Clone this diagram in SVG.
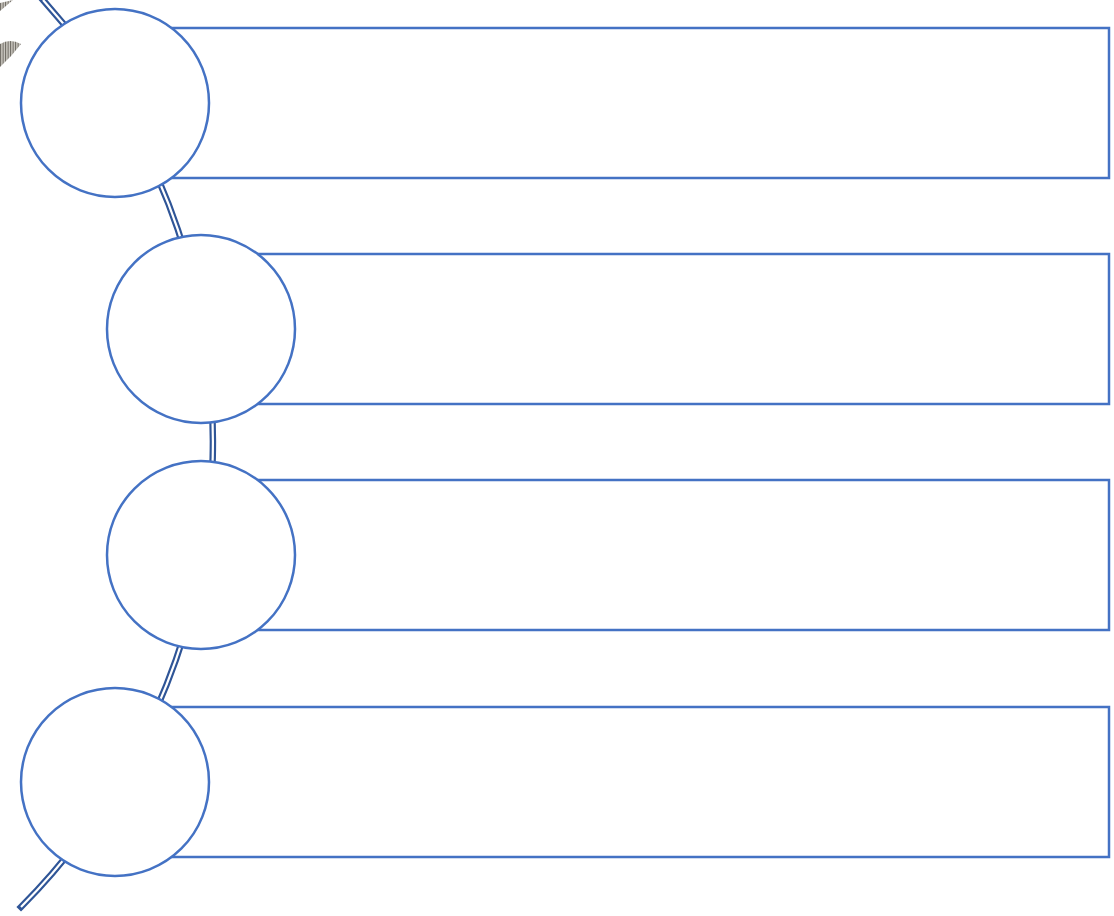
<svg xmlns="http://www.w3.org/2000/svg" width="1114" height="916" viewBox="0 0 1114 916">
  <style>
    .box { fill: #FFFFFF; stroke: #4472C4; stroke-width: 2.5; }
    .node { fill: #FFFFFF; stroke: #4472C4; stroke-width: 2.5; }
    .rail-out { fill: none; stroke: #2F5597; stroke-width: 6.5; stroke-linecap: square; }
    .rail-in { fill: none; stroke: #FFFFFF; stroke-width: 2.2; stroke-linecap: butt; }
  </style>
  <defs>
    <linearGradient id="stripes" gradientUnits="userSpaceOnUse" x1="0" y1="0" x2="5" y2="0" spreadMethod="repeat">
      <stop offset="0" stop-color="#4F4B44"/>
      <stop offset="0.35" stop-color="#CFCCC4"/>
      <stop offset="0.65" stop-color="#85817A"/>
      <stop offset="1" stop-color="#E2E0DA"/>
    </linearGradient>
    <path id="rail" d="M43,0 A659.6,659.6 0 0 1 21,907"/>
  </defs>
  <rect width="1114" height="916" fill="#FFFFFF"/>

  <g id="decoration">
    <path d="M0,3 L13,0 L0,11 Z" fill="url(#stripes)"/>
    <path d="M0,44 Q10,38 21,44 Q12,56 0,67 Z" fill="url(#stripes)"/>
  </g>

  <g id="connectors">
    <use href="#rail" class="rail-out"/>
    <use href="#rail" class="rail-in"/>
  </g>

  <g id="box-1"><rect class="box" x="115" y="28" width="994" height="150"/></g>
  <g id="box-2"><rect class="box" x="201" y="254" width="908" height="150"/></g>
  <g id="box-3"><rect class="box" x="201" y="480" width="908" height="150"/></g>
  <g id="box-4"><rect class="box" x="115" y="707" width="994" height="150"/></g>

  <g id="node-1"><circle class="node" cx="115" cy="103" r="94"/></g>
  <g id="node-2"><circle class="node" cx="201" cy="329" r="94"/></g>
  <g id="node-3"><circle class="node" cx="201" cy="555" r="94"/></g>
  <g id="node-4"><circle class="node" cx="115" cy="782" r="94"/></g>
</svg>
